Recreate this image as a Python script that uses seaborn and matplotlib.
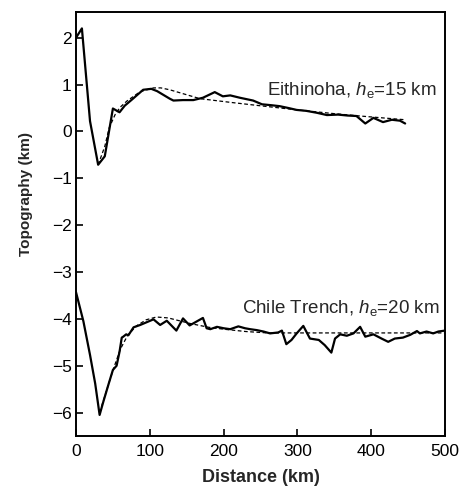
import matplotlib
matplotlib.use("Agg")
import matplotlib.pyplot as plt
import seaborn as sns
import pandas as pd

# ---- data ----
eith_x = [0, 8, 19, 30, 39, 50, 59, 66, 75, 91, 102, 110, 127, 132, 145, 159, 172,
          188, 199, 209, 222, 231, 240, 252, 265, 276, 288, 299, 312, 326, 340, 355,
          368, 380, 392, 403, 416, 428, 439, 446]
eith_y = [2.0, 2.2, 0.22, -0.71, -0.53, 0.49, 0.41, 0.55, 0.67, 0.89, 0.91, 0.86, 0.70,
          0.66, 0.67, 0.67, 0.72, 0.84, 0.75, 0.77, 0.72, 0.69, 0.66, 0.58, 0.56, 0.54,
          0.50, 0.46, 0.44, 0.40, 0.35, 0.36, 0.34, 0.33, 0.17, 0.29, 0.20, 0.25, 0.23, 0.17]
eith_model_x = [30, 39, 45, 53, 60, 69, 87, 105, 115, 127, 168, 210, 249, 300, 350, 385, 446]
eith_model_y = [-0.71, -0.32, 0.08, 0.36, 0.52, 0.65, 0.85, 0.93, 0.93, 0.89, 0.70, 0.62,
                0.55, 0.46, 0.38, 0.33, 0.25]

chile_x = [0, 10, 19, 26, 32, 37, 44, 50, 55, 59, 62, 64, 68, 71, 78, 87, 96, 105, 114,
           123, 136, 145, 154, 163, 172, 177, 182, 191, 200, 209, 220, 229, 236, 245, 254,
           263, 274, 279, 285, 292, 299, 308, 317, 329, 337, 346, 351, 358, 367, 376, 385,
           392, 403, 414, 423, 432, 443, 453, 462, 466, 475, 484, 491, 500]
chile_y = [-3.43, -4.05, -4.77, -5.38, -6.05, -5.77, -5.4, -5.09, -5.0, -4.7,
           -4.4, -4.38, -4.33, -4.35, -4.18, -4.13, -4.07, -4.01, -4.13, -4.04,
           -4.25, -3.99, -4.14, -4.06, -3.98, -4.2, -4.22, -4.17, -4.2, -4.22,
           -4.16, -4.2, -4.22, -4.24, -4.27, -4.31, -4.29, -4.25, -4.54, -4.45,
           -4.31, -4.15, -4.42, -4.45, -4.56, -4.72, -4.42, -4.33, -4.36, -4.31,
           -4.17, -4.38, -4.33, -4.42, -4.49, -4.42, -4.40, -4.34, -4.26, -4.31,
           -4.27, -4.31, -4.27, -4.25]
chile_model_x = [32, 40, 50, 60, 70, 82, 95, 109, 125, 155, 180, 200, 230, 260, 300, 400, 500]
chile_model_y = [-6.0, -5.6, -5.1, -4.65, -4.35, -4.15, -4.02, -3.96, -3.98, -4.1, -4.18,
                 -4.22, -4.27, -4.3, -4.3, -4.3, -4.3]

x_ticks = [0, 100, 200, 300, 400, 500]
y_ticks = [-6, -5, -4, -3, -2, -1, 0, 1, 2]
label_eith = r"Eithinoha, $h_\mathrm{e}$=15 km"
label_chile = r"Chile Trench, $h_\mathrm{e}$=20 km"

# ---- style ----
sns.set_style("ticks")
plt.rcParams["font.family"] = ["Liberation Sans", "DejaVu Sans"]
plt.rcParams["mathtext.fontset"] = "custom"
plt.rcParams["mathtext.rm"] = "Liberation Sans"
plt.rcParams["mathtext.it"] = "Liberation Sans:italic"

fig = plt.figure(figsize=(4.62, 4.90), dpi=100)
ax = fig.add_axes([76 / 462, 1 - 436 / 490, (445 - 76) / 462, (436 - 12) / 490])

def draw(xs, ys, **kw):
    df = pd.DataFrame({"x": xs, "y": ys})
    sns.lineplot(data=df, x="x", y="y", ax=ax, sort=False, estimator=None,
                 color="black", **kw)

draw(eith_model_x, eith_model_y, linewidth=0.9, linestyle=(0, (3, 2)))
draw(chile_model_x, chile_model_y, linewidth=0.9, linestyle=(0, (3, 2)))
draw(eith_x, eith_y, linewidth=1.6)
draw(chile_x, chile_y, linewidth=1.6)

ax.text(489, 0.77, label_eith, ha="right", va="baseline", fontsize=13.5)
ax.text(493, -3.87, label_chile, ha="right", va="baseline", fontsize=13.5)

ax.set_xlim(0, 500)
ax.set_ylim(-6.5, 2.55)
ax.set_xticks(x_ticks)
ax.set_yticks(y_ticks)
ax.tick_params(direction="in", length=5, width=1.2, labelsize=12.5, colors="black")
ax.tick_params(axis="x", pad=6)
ax.tick_params(axis="y", pad=3)
for s in ax.spines.values():
    s.set_linewidth(1.4)
    s.set_color("black")
    s.set_visible(True)

ax.set_xlabel("Distance (km)", fontsize=13, fontweight="bold", labelpad=7)
ax.set_ylabel("Topography (km)", fontsize=11, fontweight="bold")
ax.yaxis.set_label_coords(-0.117, 0.57)

fig.savefig("out.png", dpi=100)
